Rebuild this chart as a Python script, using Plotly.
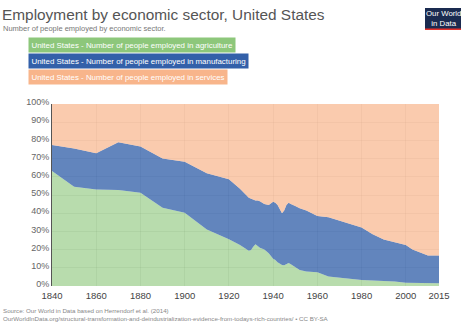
import plotly.graph_objects as go

years = [1840, 1850, 1860, 1870, 1880, 1890, 1900, 1910, 1920, 1925, 1929, 1930, 1931, 1932,
         1933, 1934, 1936, 1938, 1940, 1941, 1942, 1943, 1944, 1945, 1946, 1947, 1948, 1950,
         1952, 1955, 1960, 1965, 1970, 1975, 1980, 1985, 1990, 1995, 2000, 2003, 2005, 2008,
         2010, 2015]
agriculture = [63.2, 54.6, 53.0, 52.7, 51.3, 43.0, 40.3, 31.0, 25.7, 22.5, 19.4, 19.8, 21.5, 23.0,
               22.0, 21.0, 20.0, 18.0, 15.0, 14.3, 13.0, 12.3, 11.5, 11.4, 12.2, 12.6, 12.0, 10.5,
               8.8, 8.0, 7.5, 5.2, 4.5, 4.0, 3.3, 3.0, 2.8, 2.5, 1.8, 1.7, 1.6, 1.5,
               1.5, 1.5]
agri_plus_manu = [77.5, 75.5, 73.0, 79.0, 76.6, 70.0, 68.3, 62.0, 58.6, 53.5, 48.5, 48.0, 47.5, 47.0,
                  47.0, 46.5, 45.0, 44.5, 46.3, 45.8, 44.5, 42.5, 40.0, 41.5, 44.5, 45.8, 45.0, 44.0,
                  42.7, 41.5, 38.5, 37.8, 36.0, 33.8, 32.2, 28.5, 25.5, 24.0, 22.5, 20.0, 19.0, 17.4,
                  16.8, 16.7]
manufacturing = [round(t - a, 2) for t, a in zip(agri_plus_manu, agriculture)]
services = [round(100 - t, 2) for t in agri_plus_manu]

series_names = ["United States - Number of people employed in agriculture",
                "United States - Number of people employed in manufacturing",
                "United States - Number of people employed in services"]
x_ticks = [1840, 1860, 1880, 1900, 1920, 1940, 1960, 1980, 2000, 2015]
y_ticks = [0, 10, 20, 30, 40, 50, 60, 70, 80, 90, 100]

fills = ["rgba(141,199,123,0.62)", "rgba(51,96,169,0.77)", "rgba(248,181,139,0.7)"]
box_colors = ["#8dc77b", "#3360a9", "#f8b58b"]

fig = go.Figure()
for name, vals, fc in zip(series_names, [agriculture, manufacturing, services], fills):
    fig.add_trace(go.Scatter(x=years, y=vals, name=name, mode="lines", stackgroup="one",
                             line=dict(width=0, color=fc), fillcolor=fc, hoverinfo="skip"))

font_family = "Liberation Sans, Arial, sans-serif"
fig.update_layout(
    width=474, height=335,
    margin=dict(l=52, r=35, t=104, b=49),
    paper_bgcolor="white", plot_bgcolor="white",
    showlegend=False,
    font=dict(family=font_family, color="#666", size=9),
    xaxis=dict(range=[1840, 2015], tickvals=x_ticks, ticktext=[str(v) for v in x_ticks],
               showgrid=True, gridcolor="rgba(0,0,0,0.09)", zeroline=False,
               showline=False, ticks="", tickfont=dict(size=9.5, color="#444"), ticklabelstandoff=2),
    yaxis=dict(range=[0, 100], tickvals=y_ticks, ticktext=[f"{v}%" for v in y_ticks],
               showgrid=True, gridcolor="rgba(0,0,0,0.09)", zeroline=False,
               showline=True, linecolor="#555", linewidth=1, ticks="",
               tickfont=dict(size=9, color="#666"), ticklabelshift=-2),
)

fig.add_annotation(text="Employment by economic sector, United States", xref="paper", yref="paper",
                   x=-52/387, y=(286-14.5)/182, xanchor="left", yanchor="middle", showarrow=False,
                   font=dict(size=15.4, color="#555", family=font_family))
fig.add_annotation(text="Number of people employed by economic sector.", xref="paper", yref="paper",
                   x=-52/387 + 0.002, y=(286-28.5)/182, xanchor="left", yanchor="middle", showarrow=False,
                   font=dict(size=7.5, color="#777", family=font_family))

legend_y = [45, 61, 77]
for name, bc, py in zip(series_names, box_colors, legend_y):
    fig.add_annotation(text=name, xref="paper", yref="paper", x=(28-52)/387, y=(286-py)/182,
                       xanchor="left", yanchor="middle", showarrow=False, bgcolor=bc,
                       borderpad=2.5, font=dict(size=7.9, color="white", family=font_family))

# logo
fig.add_shape(type="rect", xref="paper", yref="paper", x0=(425-52)/387, x1=(461-52)/387,
              y0=(286-30)/182, y1=(286-8)/182, fillcolor="#1a2b50", line=dict(width=0))
fig.add_shape(type="rect", xref="paper", yref="paper", x0=(425-52)/387, x1=(461-52)/387,
              y0=(286-30)/182, y1=(286-28.5)/182, fillcolor="#e5322c", line=dict(width=0))
fig.add_annotation(text="Our World<br>in Data", xref="paper", yref="paper",
                   x=(443-52)/387, y=(286-18.5)/182, xanchor="center", yanchor="middle",
                   showarrow=False, font=dict(size=7.8, color="white", family=font_family))

fig.add_annotation(text="Source: Our World in Data based on Herrendorf et al. (2014)",
                   xref="paper", yref="paper", x=-52/387 + 0.002, y=(286-310)/182,
                   xanchor="left", yanchor="middle", showarrow=False,
                   font=dict(size=6.2, color="#888", family=font_family))
fig.add_annotation(text="OurWorldInData.org/structural-transformation-and-deindustrialization-evidence-from-todays-rich-countries/ • CC BY-SA",
                   xref="paper", yref="paper", x=-52/387 + 0.002, y=(286-318)/182,
                   xanchor="left", yanchor="middle", showarrow=False,
                   font=dict(size=6.2, color="#888", family=font_family))

fig.write_html("out.html")
